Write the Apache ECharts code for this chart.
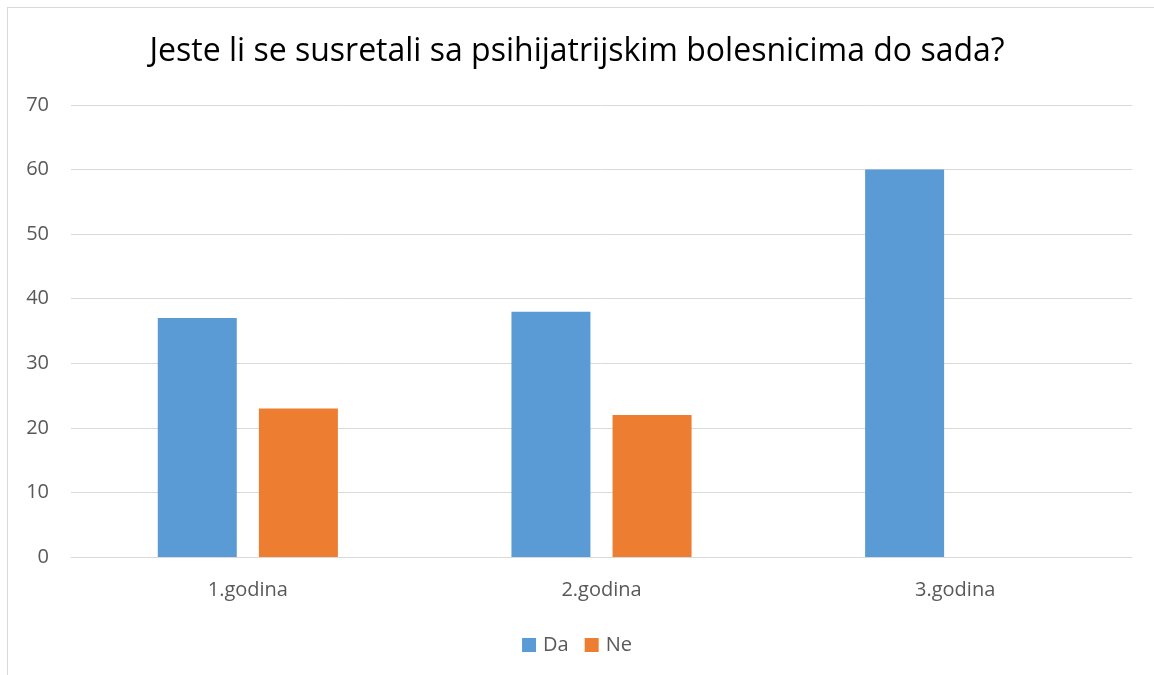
<!DOCTYPE html>
<html>
<head>
<meta charset="utf-8">
<script src="https://cdn.jsdelivr.net/npm/echarts@6/dist/echarts.min.js"></script>
<style>
html,body{margin:0;padding:0;background:#fff;}
#frame{position:absolute;left:7px;top:7px;width:1160px;height:680px;border:1px solid #d9d9d9;box-sizing:border-box;}
#chart{position:absolute;left:0;top:0;width:1154px;height:675px;}
</style>
</head>
<body>
<div id="frame"></div>
<div id="chart"></div>
<script>
const titleText = 'Jeste li se susretali sa psihijatrijskim bolesnicima do sada?';
const categories = ['1.godina', '2.godina', '3.godina'];
const seriesNames = ['Da', 'Ne'];
const daValues = [37, 38, 60];
const neValues = [23, 22, 0];
const yTicks = { min: 0, max: 70, interval: 10 };

const font = '"Open Sans", "Liberation Sans", sans-serif';
const chart = echarts.init(document.getElementById('chart'));
chart.setOption({
  animation: false,
  title: {
    text: titleText,
    left: 'center',
    top: 31,
    textStyle: { fontFamily: font, fontSize: 32, fontWeight: 'normal', color: '#000' }
  },
  legend: {
    data: seriesNames,
    bottom: 15,
    left: 'center',
    itemWidth: 14,
    itemHeight: 14,
    itemGap: 16,
    icon: 'rect',
    textStyle: { fontFamily: font, fontSize: 20, color: '#595959', padding: [0, 0, 0, 2] }
  },
  grid: { left: 71, right: 22, top: 105, bottom: 118, containLabel: false },
  xAxis: {
    type: 'category',
    data: categories,
    axisLine: { show: true, lineStyle: { color: '#d9d9d9', width: 1 } },
    axisTick: { show: false },
    axisLabel: { fontFamily: font, fontSize: 20, color: '#595959', margin: 23 }
  },
  yAxis: {
    type: 'value',
    min: yTicks.min,
    max: yTicks.max,
    interval: yTicks.interval,
    axisLine: { show: false },
    axisTick: { show: false },
    splitLine: { lineStyle: { color: '#d9d9d9', width: 1 } },
    axisLabel: { fontFamily: font, fontSize: 20, color: '#595959', margin: 22 }
  },
  series: [
    { name: seriesNames[0], type: 'bar', data: daValues, barWidth: 79, barGap: '28%', itemStyle: { color: '#5b9bd5' } },
    { name: seriesNames[1], type: 'bar', data: neValues, barWidth: 79, barGap: '28%', itemStyle: { color: '#ed7d31' } }
  ]
});
</script>
</body>
</html>
